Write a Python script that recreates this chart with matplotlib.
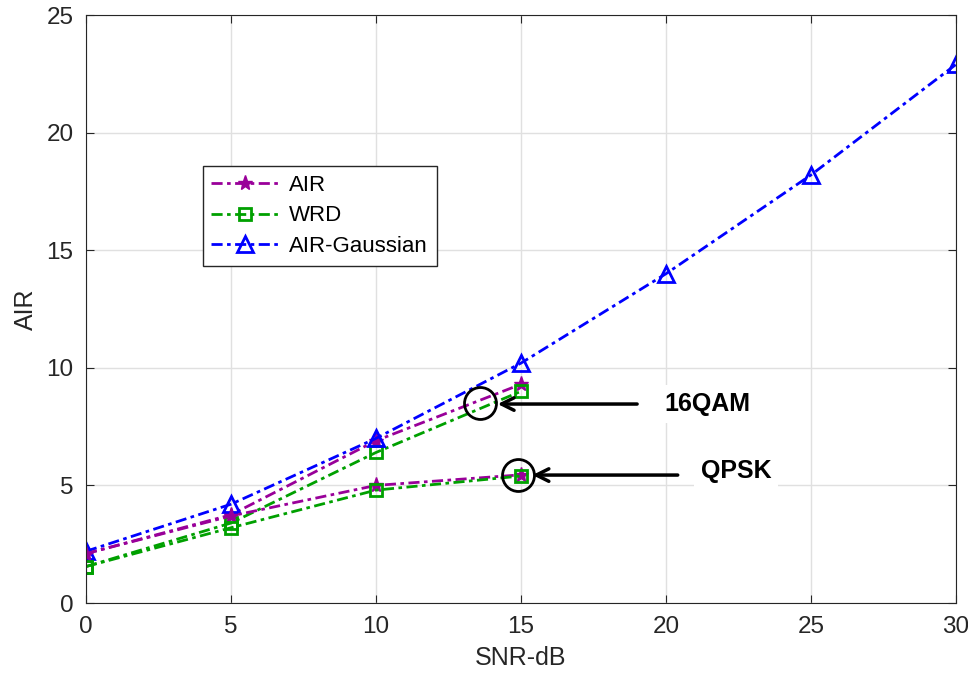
import matplotlib.pyplot as plt

plt.rcParams['font.family'] = ['Liberation Sans', 'DejaVu Sans']

snr = [0, 5, 10, 15]
snr_gauss = [0, 5, 10, 15, 20, 25, 30]

air_16qam = [2.1, 3.75, 6.9, 9.3]
wrd_16qam = [1.55, 3.4, 6.4, 9.0]
air_qpsk = [2.1, 3.7, 5.0, 5.45]
wrd_qpsk = [1.55, 3.2, 4.8, 5.4]
air_gauss = [2.2, 4.2, 7.0, 10.2, 14.0, 18.2, 22.9]

purple = '#990099'
green = '#00a000'
blue = '#0000ff'

fig = plt.figure(figsize=(9.68, 6.89), dpi=100)
ax = fig.add_axes([0.0888, 0.1248, 0.8988, 0.8534])

kw = dict(linestyle='-.', linewidth=2, dashes=(4, 1.6, 1.3, 1.6))
ax.plot(snr, air_16qam, color=purple, marker='*', markersize=11, label='AIR', **kw)
ax.plot(snr, wrd_16qam, color=green, marker='s', markersize=8, markerfacecolor='none',
        markeredgewidth=2, label='WRD', **kw)
ax.plot(snr_gauss, air_gauss, color=blue, marker='^', markersize=12, markerfacecolor='none',
        markeredgewidth=2, label='AIR-Gaussian', **kw)
ax.plot(snr, air_qpsk, color=purple, marker='*', markersize=11, **kw)
ax.plot(snr, wrd_qpsk, color=green, marker='s', markersize=8, markerfacecolor='none',
        markeredgewidth=2, **kw)

# circles marking the two modulation groups
ax.plot([13.6], [8.5], marker='o', markersize=23, markerfacecolor='none',
        markeredgecolor='black', markeredgewidth=2)
ax.plot([14.9], [5.45], marker='o', markersize=23, markerfacecolor='none',
        markeredgecolor='black', markeredgewidth=2)

arrow = dict(arrowstyle='->,head_length=0.9,head_width=0.45', color='black', lw=2.5)
ax.annotate('', xy=(14.1, 8.46), xytext=(19.1, 8.46), arrowprops=arrow)
ax.annotate('', xy=(15.3, 5.44), xytext=(20.5, 5.44), arrowprops=arrow)
ax.text(19.95, 8.46, '16QAM', fontsize=18, fontweight='bold', va='center',
        bbox=dict(facecolor='white', edgecolor='none', pad=5))
ax.text(21.2, 5.6, 'QPSK', fontsize=18, fontweight='bold', va='center',
        bbox=dict(facecolor='white', edgecolor='none', pad=5))

ax.set_xlim(0, 30)
ax.set_ylim(0, 25)
ax.set_xticks([0, 5, 10, 15, 20, 25, 30])
ax.set_yticks([0, 5, 10, 15, 20, 25])
ax.grid(True, color='#e0e0e0', linewidth=1)
ax.set_axisbelow(True)
ax.tick_params(direction='in', labelsize=17.5, colors='#262626', length=6, top=True, right=True,
               pad=9)
for s in ax.spines.values():
    s.set_color('#262626')
ax.set_xlabel('SNR-dB', fontsize=18, color='#262626', labelpad=6)
ax.set_ylabel('AIR', fontsize=18, color='#262626', labelpad=6)

leg = ax.legend(loc='upper left', bbox_to_anchor=(0.134, 0.743), fontsize=16,
                fancybox=False, edgecolor='#262626', framealpha=1,
                handlelength=3.0, borderpad=0.4, labelspacing=0.42, handletextpad=0.5,
                borderaxespad=0)
leg.get_frame().set_linewidth(1)

fig.savefig('out.png', dpi=100)
